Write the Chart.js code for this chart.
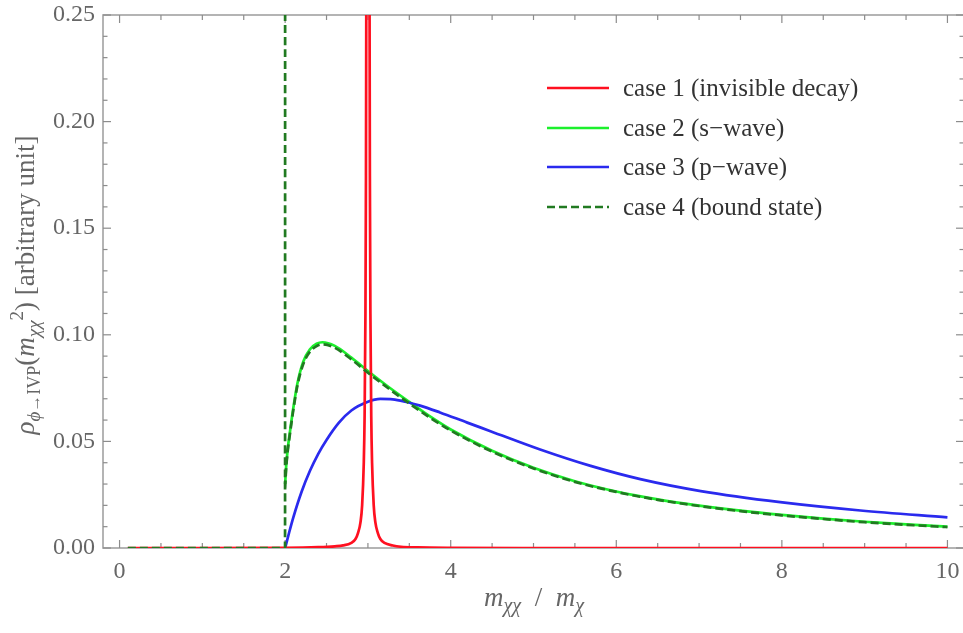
<!DOCTYPE html>
<html>
<head>
<meta charset="utf-8">
<script src="https://cdn.jsdelivr.net/npm/chart.js@4/dist/chart.umd.min.js"></script>
<style>
    html, body { margin: 0; padding: 0; background: #fff; overflow: hidden; }
    #wrap { position: relative; width: 966px; height: 633px; }
</style>
</head>
<body>
<div id="wrap"><canvas id="chart"></canvas></div>
<script>
// axis ticks
const xTicks = [0, 2, 4, 6, 8, 10];
const xTickLabels = ['0', '2', '4', '6', '8', '10'];
const yTicks = [0, 0.05, 0.10, 0.15, 0.20, 0.25];
const yTickLabels = ['0.00', '0.05', '0.10', '0.15', '0.20', '0.25'];

const seriesNames = ['case 1 (invisible decay)', 'case 2 (s\u2212wave)', 'case 3 (p\u2212wave)', 'case 4 (bound state)'];

// case 1: narrow resonance at 3 (peak runs off the top)
const case1X = [0.1, 1.0, 2.0, 2.4, 2.6, 2.7, 2.8, 2.85, 2.88, 2.91, 2.93, 2.95, 2.96, 2.97, 2.975, 2.98, 2.99, 3.0,
    3.01, 3.02, 3.025, 3.03, 3.04, 3.05, 3.07, 3.09, 3.12, 3.15, 3.2, 3.3, 3.4, 3.6, 4.0, 5.0, 7.0, 10.0];
const case1Y = [0, 0, 0.0001, 0.0004, 0.0008, 0.0012, 0.0024, 0.0042, 0.0070, 0.0120, 0.0200, 0.040, 0.062, 0.110, 0.160, 0.250, 0.95, 2.5,
    0.95, 0.25, 0.16, 0.11, 0.062, 0.040, 0.020, 0.012, 0.0070, 0.0042, 0.0024, 0.0012, 0.0006, 0.0003, 0.0001, 0, 0, 0];

// case 2: s-wave
const case2X = [2.0, 2.01, 2.03, 2.06, 2.1, 2.15, 2.22, 2.3, 2.38, 2.45, 2.6, 2.8, 3.0, 3.25, 3.5, 3.75, 4.0, 4.5,
    5.0, 5.5, 6.0, 6.5, 7.0, 7.5, 8.0, 8.5, 9.0, 9.5, 10.0];
const case2Y = [0.030, 0.037, 0.046, 0.055, 0.066, 0.0775, 0.0875, 0.0932, 0.0958, 0.0965, 0.0948, 0.0893, 0.0830, 0.0755, 0.0685, 0.0617, 0.0556, 0.0456,
    0.0376, 0.0313, 0.0265, 0.0228, 0.0199, 0.0175, 0.0155, 0.0138, 0.0123, 0.0111, 0.0100];

// case 3: p-wave
const case3X = [2.0, 2.05, 2.1, 2.2, 2.3, 2.4, 2.5, 2.65, 2.8, 3.0, 3.15, 3.3, 3.45, 3.63, 3.87, 4.2, 4.48,
    5.08, 5.69, 6.29, 7.02, 7.98, 8.95, 10.0];
const case3Y = [0, 0.0075, 0.0145, 0.0265, 0.0362, 0.0442, 0.0507, 0.0588, 0.0645, 0.0686, 0.0699, 0.0697, 0.0686, 0.0668, 0.0636, 0.0588, 0.0548,
    0.0462, 0.0385, 0.0323, 0.0267, 0.0215, 0.0176, 0.0144];

// case 4: bound state (spike at threshold, then continuum)
const case4X = [0.1, 1.0, 1.999, 2.0, 2.0, 2.0, 2.01, 2.03, 2.06, 2.1, 2.15, 2.22, 2.3, 2.38, 2.45, 2.6, 2.8, 3.0, 3.25, 3.5, 3.75, 4.0, 4.5,
    5.0, 5.5, 6.0, 6.5, 7.0, 7.5, 8.0, 8.5, 9.0, 9.5, 10.0];
const case4Y = [0, 0, 0, 0.30, null, 0.028, 0.036, 0.045, 0.054, 0.065, 0.0765, 0.0864, 0.0921, 0.0947, 0.0955, 0.0939, 0.0885, 0.0822, 0.0748, 0.0678, 0.0611, 0.0551, 0.0452,
    0.0373, 0.0310, 0.0263, 0.0226, 0.0197, 0.0173, 0.0153, 0.0136, 0.0121, 0.0109, 0.0098];

const FONT = '"Liberation Serif", "DejaVu Serif", serif';

function points(xs, ys) {
    return xs.map((x, i) => ({ x: x, y: ys[i] }));
}

function lineSet(label, xs, ys, color, order, dash) {
    return {
        label: label,
        data: points(xs, ys),
        borderColor: color,
        backgroundColor: color,
        borderWidth: 2.7,
        borderDash: dash || [],
        pointRadius: 0,
        fill: false,
        cubicInterpolationMode: 'monotone',
        order: order
    };
}

// text runs with italic / sub / sup pieces
function richWidth(ctx, parts) {
    let w = 0;
    parts.forEach(p => {
        ctx.font = (p.i ? 'italic ' : '') + p.size + 'px ' + FONT;
        w += ctx.measureText(p.t).width;
    });
    return w;
}

function drawRich(ctx, parts, x, y) {
    parts.forEach(p => {
        ctx.font = (p.i ? 'italic ' : '') + p.size + 'px ' + FONT;
        ctx.fillText(p.t, x, y + (p.dy || 0));
        x += ctx.measureText(p.t).width;
    });
}

const xTitle = [
    { t: 'm', i: true, size: 27 },
    { t: '\u03c7\u03c7', i: true, size: 20, dy: 6 },
    { t: '\u2002/\u2002', size: 27 },
    { t: 'm', i: true, size: 27 },
    { t: '\u03c7', i: true, size: 20, dy: 6 }
];

const yTitle = [
    { t: '\u03c1', i: true, size: 27 },
    { t: '\u03d5', i: true, size: 19, dy: 6 },
    { t: '\u2192', size: 17, dy: 6 },
    { t: 'IVP', size: 18, dy: 6 },
    { t: '(', size: 27 },
    { t: 'm', i: true, size: 27 },
    { t: '\u03c7\u03c7', i: true, size: 19, dy: 6 },
    { t: '2', size: 19, dy: -11 },
    { t: ')', size: 27 },
    { t: ' [arbitrary unit]', size: 27 }
];

const framePlugin = {
    id: 'frame',
    beforeDatasetsDraw(chart) {
        const { ctx, chartArea: a, scales } = chart;
        const sx = scales.x, sy = scales.y;
        ctx.save();
        ctx.strokeStyle = '#a2a2a2';
        ctx.lineWidth = 1.6;
        ctx.strokeRect(a.left, a.top, a.right - a.left, a.bottom - a.top);

        ctx.strokeStyle = '#8c8c8c';
        ctx.lineWidth = 1.2;
        const tick = (x1, y1, x2, y2) => {
            ctx.beginPath();
            ctx.moveTo(x1, y1);
            ctx.lineTo(x2, y2);
            ctx.stroke();
        };
        for (let i = 0; i <= 20; i++) {
            const px = sx.getPixelForValue(i * 0.5);
            const len = i % 4 === 0 ? 8 : 5;
            tick(px, a.bottom, px, a.bottom - len);
            tick(px, a.top, px, a.top + len);
        }
        for (let i = 0; i <= 25; i++) {
            const py = sy.getPixelForValue(i / 100);
            const len = i % 5 === 0 ? 8 : 4.5;
            tick(a.left, py, a.left + len, py);
            tick(a.right, py, a.right - len, py);
        }
        ctx.restore();
    },
    afterDraw(chart) {
        const { ctx, chartArea: a } = chart;
        ctx.save();

        // legend
        const rows = [88, 128, 167, 207];
        ctx.textBaseline = 'middle';
        chart.data.datasets.forEach((ds, i) => {
            const y = rows[i];
            ctx.strokeStyle = ds.borderColor;
            ctx.lineWidth = 2.7;
            ctx.setLineDash(ds.borderDash);
            ctx.beginPath();
            ctx.moveTo(547, y);
            ctx.lineTo(609, y);
            ctx.stroke();
            ctx.setLineDash([]);
            ctx.fillStyle = '#333';
            ctx.font = '25px ' + FONT;
            ctx.fillText(ds.label, 623, y + 1);
        });

        // axis titles
        ctx.textBaseline = 'alphabetic';
        ctx.fillStyle = '#666';
        const xw = richWidth(ctx, xTitle);
        drawRich(ctx, xTitle, 534 - xw / 2, 606);

        const yw = richWidth(ctx, yTitle);
        ctx.translate(34, 285);
        ctx.rotate(-Math.PI / 2);
        drawRich(ctx, yTitle, -yw / 2, 0);
        ctx.restore();
    }
};

const datasets = [
    lineSet(seriesNames[0], case1X, case1Y, '#ff1020', 1),
    lineSet(seriesNames[1], case2X, case2Y, '#1cf02c', 3),
    lineSet(seriesNames[2], case3X, case3Y, '#2a2aee', 2),
    lineSet(seriesNames[3], case4X, case4Y, '#217a21', 0, [8, 4])
];

new Chart(document.getElementById('chart'), {
    type: 'line',
    data: { datasets: datasets },
    plugins: [framePlugin],
    options: {
        responsive: true,
        maintainAspectRatio: false,
        animation: false,
        devicePixelRatio: 1,
        spanGaps: false,
        layout: { padding: { top: 15, right: 2, left: 0, bottom: 0 } },
        plugins: {
            legend: { display: false },
            tooltip: { enabled: false }
        },
        scales: {
            x: {
                type: 'linear',
                min: -0.2,
                max: 10.2,
                grid: { display: false, drawTicks: false, tickLength: 0 },
                border: { display: false },
                afterBuildTicks: s => { s.ticks = xTicks.map(v => ({ value: v })); },
                afterFit: s => {
                    s.height = 85;
                    s.paddingLeft = 0;
                    s.paddingRight = 0;
                },
                ticks: {
                    padding: 9,
                    maxRotation: 0,
                    color: '#666',
                    font: { family: FONT, size: 24 },
                    callback: v => xTickLabels[xTicks.indexOf(v)]
                }
            },
            y: {
                type: 'linear',
                min: 0,
                max: 0.25,
                grid: { display: false, drawTicks: false, tickLength: 0 },
                border: { display: false },
                afterBuildTicks: s => { s.ticks = yTicks.map(v => ({ value: v })); },
                afterFit: s => {
                    s.width = 103;
                    s.paddingTop = 0;
                    s.paddingBottom = 0;
                },
                ticks: {
                    padding: 8,
                    color: '#666',
                    font: { family: FONT, size: 24 },
                    callback: v => yTickLabels[yTicks.indexOf(v)]
                }
            }
        }
    }
});
</script>
</body>
</html>
